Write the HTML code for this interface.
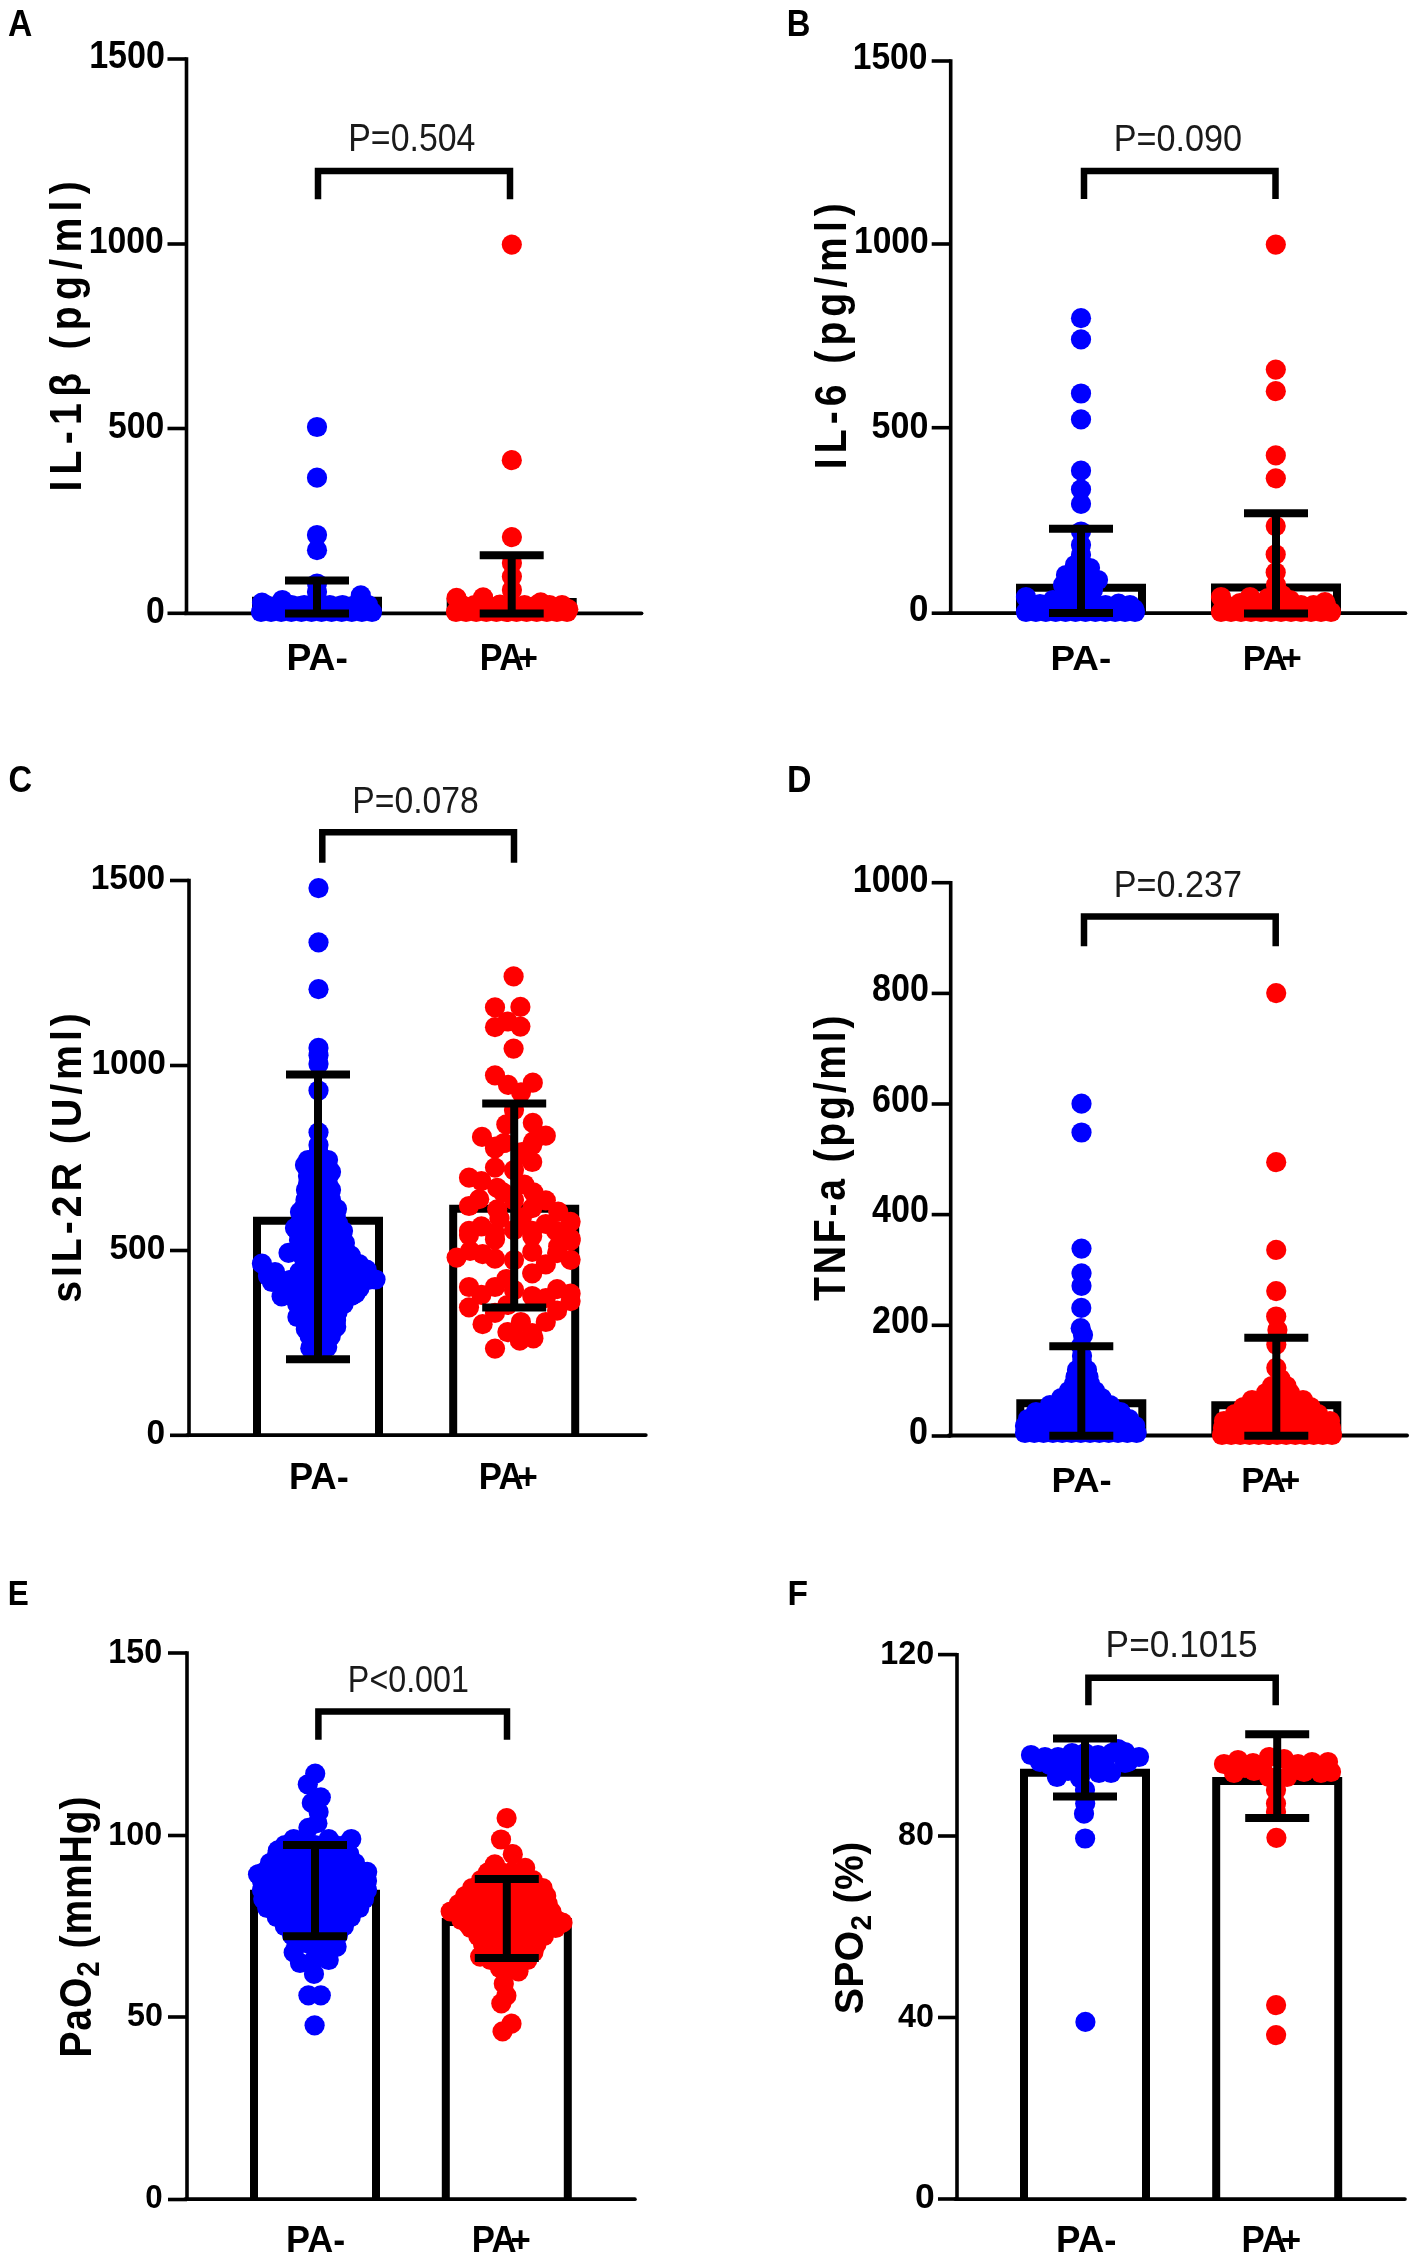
<!DOCTYPE html><html><head><meta charset="utf-8"><style>html,body{margin:0;padding:0;background:#fff;width:1417px;height:2258px;overflow:hidden}</style></head><body><svg width="1417" height="2258" viewBox="0 0 1417 2258" style="font-family:'Liberation Sans',sans-serif;display:block;will-change:transform">
<rect width="1417" height="2258" fill="#fff"/>
<path d="M256,613.3 V600.7 H378 V613.3" fill="#fff" stroke="#000" stroke-width="8" stroke-linejoin="miter"/>
<path d="M450.7,613.3 V602 H572.7 V613.3" fill="#fff" stroke="#000" stroke-width="8" stroke-linejoin="miter"/>
<line x1="186.5" y1="57.3" x2="186.5" y2="615.0" stroke="#000" stroke-width="3.6" stroke-linecap="butt"/>
<line x1="184.7" y1="613.3" x2="641.5" y2="613.3" stroke="#000" stroke-width="3.8" stroke-linecap="round"/>
<line x1="167.5" y1="613.3" x2="186.5" y2="613.3" stroke="#000" stroke-width="3.6" stroke-linecap="butt"/>
<line x1="167.5" y1="428.5" x2="186.5" y2="428.5" stroke="#000" stroke-width="3.6" stroke-linecap="butt"/>
<line x1="167.5" y1="244" x2="186.5" y2="244" stroke="#000" stroke-width="3.6" stroke-linecap="butt"/>
<line x1="167.5" y1="59" x2="186.5" y2="59" stroke="#000" stroke-width="3.6" stroke-linecap="butt"/>
<g fill="#0000ff"><circle cx="317" cy="427" r="10.1"/><circle cx="317" cy="477.7" r="10.1"/><circle cx="317" cy="535" r="10.1"/><circle cx="317" cy="550.2" r="10.1"/><circle cx="317" cy="583.5" r="10.1"/><circle cx="317" cy="592" r="10.1"/><circle cx="262" cy="602.7" r="10.1"/><circle cx="282.3" cy="600" r="10.1"/><circle cx="300" cy="606" r="10.1"/><circle cx="340" cy="606" r="10.1"/><circle cx="360.8" cy="595.4" r="10.1"/><circle cx="261.0" cy="612" r="10.1"/><circle cx="271.1" cy="612" r="10.1"/><circle cx="281.2" cy="612" r="10.1"/><circle cx="291.3" cy="612" r="10.1"/><circle cx="301.4" cy="612" r="10.1"/><circle cx="311.5" cy="612" r="10.1"/><circle cx="321.5" cy="612" r="10.1"/><circle cx="331.6" cy="612" r="10.1"/><circle cx="341.7" cy="612" r="10.1"/><circle cx="351.8" cy="612" r="10.1"/><circle cx="361.9" cy="612" r="10.1"/><circle cx="372.0" cy="612" r="10.1"/><circle cx="266.0" cy="605" r="10.1"/><circle cx="278.8" cy="605" r="10.1"/><circle cx="291.5" cy="605" r="10.1"/><circle cx="304.2" cy="605" r="10.1"/><circle cx="317.0" cy="605" r="10.1"/><circle cx="329.8" cy="605" r="10.1"/><circle cx="342.5" cy="605" r="10.1"/><circle cx="355.2" cy="605" r="10.1"/><circle cx="368.0" cy="605" r="10.1"/></g>
<g fill="#ff0000"><circle cx="511.8" cy="244.6" r="10.1"/><circle cx="511.8" cy="460.2" r="10.1"/><circle cx="511.9" cy="537.1" r="10.1"/><circle cx="511.9" cy="563" r="10.1"/><circle cx="511.9" cy="576.6" r="10.1"/><circle cx="511.9" cy="590" r="10.1"/><circle cx="456.5" cy="597.9" r="10.1"/><circle cx="483.1" cy="597.4" r="10.1"/><circle cx="500" cy="604.7" r="10.1"/><circle cx="540.7" cy="602.4" r="10.1"/><circle cx="568.3" cy="609.2" r="10.1"/><circle cx="525" cy="606" r="10.1"/><circle cx="456.0" cy="612" r="10.1"/><circle cx="466.1" cy="612" r="10.1"/><circle cx="476.2" cy="612" r="10.1"/><circle cx="486.3" cy="612" r="10.1"/><circle cx="496.4" cy="612" r="10.1"/><circle cx="506.5" cy="612" r="10.1"/><circle cx="516.5" cy="612" r="10.1"/><circle cx="526.6" cy="612" r="10.1"/><circle cx="536.7" cy="612" r="10.1"/><circle cx="546.8" cy="612" r="10.1"/><circle cx="556.9" cy="612" r="10.1"/><circle cx="567.0" cy="612" r="10.1"/><circle cx="462.0" cy="605" r="10.1"/><circle cx="474.5" cy="605" r="10.1"/><circle cx="487.0" cy="605" r="10.1"/><circle cx="499.5" cy="605" r="10.1"/><circle cx="512.0" cy="605" r="10.1"/><circle cx="524.5" cy="605" r="10.1"/><circle cx="537.0" cy="605" r="10.1"/><circle cx="549.5" cy="605" r="10.1"/><circle cx="562.0" cy="605" r="10.1"/></g>
<line x1="317" y1="580.6" x2="317" y2="613.4" stroke="#000" stroke-width="8" stroke-linecap="butt"/>
<line x1="285" y1="580.6" x2="349" y2="580.6" stroke="#000" stroke-width="8" stroke-linecap="butt"/>
<line x1="285" y1="613.4" x2="349" y2="613.4" stroke="#000" stroke-width="8" stroke-linecap="butt"/>
<line x1="511.7" y1="555.2" x2="511.7" y2="613.5" stroke="#000" stroke-width="8" stroke-linecap="butt"/>
<line x1="479.7" y1="555.2" x2="543.7" y2="555.2" stroke="#000" stroke-width="8" stroke-linecap="butt"/>
<line x1="479.7" y1="613.5" x2="543.7" y2="613.5" stroke="#000" stroke-width="8" stroke-linecap="butt"/>
<path d="M318,199.3 V171 H510 V199.3" fill="none" stroke="#000" stroke-width="6.5" stroke-linejoin="miter"/>
<path d="M1020,613.2 V587.8 H1142 V613.2" fill="#fff" stroke="#000" stroke-width="8" stroke-linejoin="miter"/>
<path d="M1215,613.2 V587.4 H1337 V613.2" fill="#fff" stroke="#000" stroke-width="8" stroke-linejoin="miter"/>
<line x1="950.7" y1="59.3" x2="950.7" y2="614.9000000000001" stroke="#000" stroke-width="3.6" stroke-linecap="butt"/>
<line x1="948.9000000000001" y1="613.2" x2="1405.3999999999999" y2="613.2" stroke="#000" stroke-width="3.8" stroke-linecap="round"/>
<line x1="931.7" y1="613.2" x2="950.7" y2="613.2" stroke="#000" stroke-width="3.6" stroke-linecap="butt"/>
<line x1="931.7" y1="427.7" x2="950.7" y2="427.7" stroke="#000" stroke-width="3.6" stroke-linecap="butt"/>
<line x1="931.7" y1="244" x2="950.7" y2="244" stroke="#000" stroke-width="3.6" stroke-linecap="butt"/>
<line x1="931.7" y1="61" x2="950.7" y2="61" stroke="#000" stroke-width="3.6" stroke-linecap="butt"/>
<g fill="#0000ff"><circle cx="1081" cy="318.2" r="10.1"/><circle cx="1081" cy="339.4" r="10.1"/><circle cx="1081" cy="393.5" r="10.1"/><circle cx="1081" cy="419.4" r="10.1"/><circle cx="1081" cy="470.7" r="10.1"/><circle cx="1081" cy="489.4" r="10.1"/><circle cx="1081" cy="503.8" r="10.1"/><circle cx="1081" cy="531.5" r="10.1"/><circle cx="1081" cy="545" r="10.1"/><circle cx="1081" cy="555" r="10.1"/><circle cx="1075" cy="565" r="10.1"/><circle cx="1090" cy="568" r="10.1"/><circle cx="1066" cy="575" r="10.1"/><circle cx="1098" cy="580" r="10.1"/><circle cx="1063" cy="585" r="10.1"/><circle cx="1093" cy="590" r="10.1"/><circle cx="1070" cy="595" r="10.1"/><circle cx="1081" cy="575" r="10.1"/><circle cx="1075" cy="585" r="10.1"/><circle cx="1088" cy="585" r="10.1"/><circle cx="1081" cy="597" r="10.1"/><circle cx="1072" cy="578" r="10.1"/><circle cx="1090" cy="578" r="10.1"/><circle cx="1026" cy="597" r="10.1"/><circle cx="1053" cy="600" r="10.1"/><circle cx="1118.6" cy="603.7" r="10.1"/><circle cx="1134" cy="609" r="10.1"/><circle cx="1040" cy="604" r="10.1"/><circle cx="1100" cy="606" r="10.1"/><circle cx="1026.0" cy="612" r="10.1"/><circle cx="1035.9" cy="612" r="10.1"/><circle cx="1045.8" cy="612" r="10.1"/><circle cx="1055.7" cy="612" r="10.1"/><circle cx="1065.6" cy="612" r="10.1"/><circle cx="1075.5" cy="612" r="10.1"/><circle cx="1085.5" cy="612" r="10.1"/><circle cx="1095.4" cy="612" r="10.1"/><circle cx="1105.3" cy="612" r="10.1"/><circle cx="1115.2" cy="612" r="10.1"/><circle cx="1125.1" cy="612" r="10.1"/><circle cx="1135.0" cy="612" r="10.1"/><circle cx="1032.0" cy="605" r="10.1"/><circle cx="1044.2" cy="605" r="10.1"/><circle cx="1056.5" cy="605" r="10.1"/><circle cx="1068.8" cy="605" r="10.1"/><circle cx="1081.0" cy="605" r="10.1"/><circle cx="1093.2" cy="605" r="10.1"/><circle cx="1105.5" cy="605" r="10.1"/><circle cx="1117.8" cy="605" r="10.1"/><circle cx="1130.0" cy="605" r="10.1"/></g>
<g fill="#ff0000"><circle cx="1275.8" cy="244.6" r="10.1"/><circle cx="1275.8" cy="369.6" r="10.1"/><circle cx="1275.8" cy="391.2" r="10.1"/><circle cx="1275.8" cy="455.4" r="10.1"/><circle cx="1275.8" cy="478.3" r="10.1"/><circle cx="1275.7" cy="526.1" r="10.1"/><circle cx="1275.7" cy="554.4" r="10.1"/><circle cx="1275.7" cy="572.4" r="10.1"/><circle cx="1276" cy="585" r="10.1"/><circle cx="1282" cy="595" r="10.1"/><circle cx="1268" cy="598" r="10.1"/><circle cx="1290" cy="600" r="10.1"/><circle cx="1276" cy="600" r="10.1"/><circle cx="1262" cy="604" r="10.1"/><circle cx="1221" cy="597" r="10.1"/><circle cx="1250" cy="597" r="10.1"/><circle cx="1325" cy="602" r="10.1"/><circle cx="1240" cy="603" r="10.1"/><circle cx="1300" cy="606" r="10.1"/><circle cx="1221.0" cy="612" r="10.1"/><circle cx="1231.0" cy="612" r="10.1"/><circle cx="1241.0" cy="612" r="10.1"/><circle cx="1251.0" cy="612" r="10.1"/><circle cx="1261.0" cy="612" r="10.1"/><circle cx="1271.0" cy="612" r="10.1"/><circle cx="1281.0" cy="612" r="10.1"/><circle cx="1291.0" cy="612" r="10.1"/><circle cx="1301.0" cy="612" r="10.1"/><circle cx="1311.0" cy="612" r="10.1"/><circle cx="1321.0" cy="612" r="10.1"/><circle cx="1331.0" cy="612" r="10.1"/><circle cx="1226.0" cy="605" r="10.1"/><circle cx="1238.5" cy="605" r="10.1"/><circle cx="1251.0" cy="605" r="10.1"/><circle cx="1263.5" cy="605" r="10.1"/><circle cx="1276.0" cy="605" r="10.1"/><circle cx="1288.5" cy="605" r="10.1"/><circle cx="1301.0" cy="605" r="10.1"/><circle cx="1313.5" cy="605" r="10.1"/><circle cx="1326.0" cy="605" r="10.1"/></g>
<line x1="1081" y1="528.8" x2="1081" y2="613" stroke="#000" stroke-width="8" stroke-linecap="butt"/>
<line x1="1049" y1="528.8" x2="1113" y2="528.8" stroke="#000" stroke-width="8" stroke-linecap="butt"/>
<line x1="1049" y1="613" x2="1113" y2="613" stroke="#000" stroke-width="8" stroke-linecap="butt"/>
<line x1="1276" y1="513.2" x2="1276" y2="613.4" stroke="#000" stroke-width="8" stroke-linecap="butt"/>
<line x1="1244" y1="513.2" x2="1308" y2="513.2" stroke="#000" stroke-width="8" stroke-linecap="butt"/>
<line x1="1244" y1="613.4" x2="1308" y2="613.4" stroke="#000" stroke-width="8" stroke-linecap="butt"/>
<path d="M1084,198.9 V171 H1275.5 V198.9" fill="none" stroke="#000" stroke-width="6.5" stroke-linejoin="miter"/>
<path d="M257,1435.1 V1220.7 H379 V1435.1" fill="#fff" stroke="#000" stroke-width="8" stroke-linejoin="miter"/>
<path d="M453.20000000000005,1435.1 V1208.8 H575.2 V1435.1" fill="#fff" stroke="#000" stroke-width="8" stroke-linejoin="miter"/>
<line x1="189" y1="878.8" x2="189" y2="1436.8" stroke="#000" stroke-width="3.6" stroke-linecap="butt"/>
<line x1="187.2" y1="1435.1" x2="645.8000000000001" y2="1435.1" stroke="#000" stroke-width="3.8" stroke-linecap="round"/>
<line x1="170" y1="1435.3" x2="189" y2="1435.3" stroke="#000" stroke-width="3.6" stroke-linecap="butt"/>
<line x1="170" y1="1250.5" x2="189" y2="1250.5" stroke="#000" stroke-width="3.6" stroke-linecap="butt"/>
<line x1="170" y1="1065.5" x2="189" y2="1065.5" stroke="#000" stroke-width="3.6" stroke-linecap="butt"/>
<line x1="170" y1="880.5" x2="189" y2="880.5" stroke="#000" stroke-width="3.6" stroke-linecap="butt"/>
<g fill="#0000ff"><circle cx="318.5" cy="888.1" r="10.1"/><circle cx="318.5" cy="942.3" r="10.1"/><circle cx="318.5" cy="989.2" r="10.1"/><circle cx="318.5" cy="1047.9" r="10.1"/><circle cx="318.5" cy="1055.3" r="10.1"/><circle cx="318.5" cy="1064" r="10.1"/><circle cx="318.5" cy="1090.5" r="10.1"/><circle cx="318.5" cy="1132.3" r="10.1"/><circle cx="318.5" cy="1145" r="10.1"/><circle cx="318.5" cy="1153" r="10.1"/><circle cx="318.5" cy="1161" r="10.1"/><circle cx="318.5" cy="1169" r="10.1"/><circle cx="318.5" cy="1177" r="10.1"/><circle cx="318.5" cy="1185" r="10.1"/><circle cx="318.5" cy="1193" r="10.1"/><circle cx="318.5" cy="1201" r="10.1"/><circle cx="318.5" cy="1209" r="10.1"/><circle cx="318.5" cy="1217" r="10.1"/><circle cx="318.5" cy="1225" r="10.1"/><circle cx="318.5" cy="1233" r="10.1"/><circle cx="318.5" cy="1241" r="10.1"/><circle cx="318.5" cy="1249" r="10.1"/><circle cx="318.5" cy="1257" r="10.1"/><circle cx="318.5" cy="1265" r="10.1"/><circle cx="318.5" cy="1273" r="10.1"/><circle cx="318.5" cy="1281" r="10.1"/><circle cx="318.5" cy="1289" r="10.1"/><circle cx="318.5" cy="1297" r="10.1"/><circle cx="318.5" cy="1305" r="10.1"/><circle cx="318.5" cy="1313" r="10.1"/><circle cx="318.5" cy="1321" r="10.1"/><circle cx="318.5" cy="1329" r="10.1"/><circle cx="318.5" cy="1337" r="10.1"/><circle cx="318.5" cy="1345" r="10.1"/><circle cx="305" cy="1165" r="10.1"/><circle cx="331" cy="1172" r="10.1"/><circle cx="306" cy="1190" r="10.1"/><circle cx="331" cy="1190" r="10.1"/><circle cx="300" cy="1212" r="10.1"/><circle cx="337" cy="1209" r="10.1"/><circle cx="295" cy="1228" r="10.1"/><circle cx="343" cy="1231" r="10.1"/><circle cx="312" cy="1160" r="10.1"/><circle cx="324" cy="1180" r="10.1"/><circle cx="312" cy="1200" r="10.1"/><circle cx="324" cy="1200" r="10.1"/><circle cx="312" cy="1220" r="10.1"/><circle cx="325" cy="1220" r="10.1"/><circle cx="310" cy="1235" r="10.1"/><circle cx="328" cy="1238" r="10.1"/><circle cx="288.5" cy="1252.8" r="10.1"/><circle cx="261.9" cy="1263.7" r="10.1"/><circle cx="275" cy="1272" r="10.1"/><circle cx="290" cy="1280" r="10.1"/><circle cx="281.6" cy="1296.3" r="10.1"/><circle cx="297.4" cy="1317" r="10.1"/><circle cx="336" cy="1320" r="10.1"/><circle cx="355.7" cy="1293.3" r="10.1"/><circle cx="375.5" cy="1279.5" r="10.1"/><circle cx="366.6" cy="1269.6" r="10.1"/><circle cx="344.9" cy="1243" r="10.1"/><circle cx="350" cy="1255" r="10.1"/><circle cx="358" cy="1265" r="10.1"/><circle cx="305" cy="1280" r="10.1"/><circle cx="272" cy="1282" r="10.1"/><circle cx="285" cy="1288" r="10.1"/><circle cx="268" cy="1276" r="10.1"/><circle cx="300" cy="1295" r="10.1"/><circle cx="310" cy="1305" r="10.1"/><circle cx="330" cy="1250" r="10.1"/><circle cx="333" cy="1265" r="10.1"/><circle cx="345" cy="1275" r="10.1"/><circle cx="340" cy="1290" r="10.1"/><circle cx="330" cy="1305" r="10.1"/><circle cx="350" cy="1282" r="10.1"/><circle cx="325" cy="1275" r="10.1"/><circle cx="310" cy="1260" r="10.1"/><circle cx="305.8" cy="1329" r="10.1"/><circle cx="336.2" cy="1326.8" r="10.1"/><circle cx="310.3" cy="1348.2" r="10.1"/><circle cx="327.2" cy="1347.1" r="10.1"/><circle cx="308" cy="1330.3" r="10.1"/><circle cx="335.1" cy="1327" r="10.1"/><circle cx="301.2" cy="1317.9" r="10.1"/><circle cx="308.0" cy="1160" r="10.1"/><circle cx="318.0" cy="1160" r="10.1"/><circle cx="328.0" cy="1160" r="10.1"/><circle cx="308.0" cy="1168" r="10.1"/><circle cx="318.0" cy="1168" r="10.1"/><circle cx="328.0" cy="1168" r="10.1"/><circle cx="308.0" cy="1176" r="10.1"/><circle cx="318.0" cy="1176" r="10.1"/><circle cx="328.0" cy="1176" r="10.1"/><circle cx="308.0" cy="1184" r="10.1"/><circle cx="318.0" cy="1184" r="10.1"/><circle cx="328.0" cy="1184" r="10.1"/><circle cx="307.5" cy="1192" r="10.1"/><circle cx="318.1" cy="1192" r="10.1"/><circle cx="328.6" cy="1192" r="10.1"/><circle cx="305.5" cy="1200" r="10.1"/><circle cx="318.2" cy="1200" r="10.1"/><circle cx="331.0" cy="1200" r="10.1"/><circle cx="303.5" cy="1208" r="10.1"/><circle cx="313.5" cy="1208" r="10.1"/><circle cx="323.4" cy="1208" r="10.1"/><circle cx="333.4" cy="1208" r="10.1"/><circle cx="301.5" cy="1216" r="10.1"/><circle cx="312.9" cy="1216" r="10.1"/><circle cx="324.4" cy="1216" r="10.1"/><circle cx="335.8" cy="1216" r="10.1"/><circle cx="299.5" cy="1224" r="10.1"/><circle cx="309.2" cy="1224" r="10.1"/><circle cx="318.9" cy="1224" r="10.1"/><circle cx="328.5" cy="1224" r="10.1"/><circle cx="338.2" cy="1224" r="10.1"/><circle cx="298.2" cy="1232" r="10.1"/><circle cx="308.8" cy="1232" r="10.1"/><circle cx="319.4" cy="1232" r="10.1"/><circle cx="329.9" cy="1232" r="10.1"/><circle cx="340.5" cy="1232" r="10.1"/><circle cx="299.0" cy="1240" r="10.1"/><circle cx="309.9" cy="1240" r="10.1"/><circle cx="320.8" cy="1240" r="10.1"/><circle cx="331.6" cy="1240" r="10.1"/><circle cx="342.5" cy="1240" r="10.1"/><circle cx="299.8" cy="1248" r="10.1"/><circle cx="311.0" cy="1248" r="10.1"/><circle cx="322.1" cy="1248" r="10.1"/><circle cx="333.3" cy="1248" r="10.1"/><circle cx="344.5" cy="1248" r="10.1"/><circle cx="302.4" cy="1256" r="10.1"/><circle cx="312.1" cy="1256" r="10.1"/><circle cx="321.8" cy="1256" r="10.1"/><circle cx="331.6" cy="1256" r="10.1"/><circle cx="341.3" cy="1256" r="10.1"/><circle cx="351.0" cy="1256" r="10.1"/><circle cx="305.6" cy="1264" r="10.1"/><circle cx="316.3" cy="1264" r="10.1"/><circle cx="327.0" cy="1264" r="10.1"/><circle cx="337.6" cy="1264" r="10.1"/><circle cx="348.3" cy="1264" r="10.1"/><circle cx="359.0" cy="1264" r="10.1"/><circle cx="299.5" cy="1272" r="10.1"/><circle cx="308.6" cy="1272" r="10.1"/><circle cx="317.8" cy="1272" r="10.1"/><circle cx="327.0" cy="1272" r="10.1"/><circle cx="336.2" cy="1272" r="10.1"/><circle cx="345.4" cy="1272" r="10.1"/><circle cx="354.6" cy="1272" r="10.1"/><circle cx="363.7" cy="1272" r="10.1"/><circle cx="292.0" cy="1280" r="10.1"/><circle cx="301.5" cy="1280" r="10.1"/><circle cx="311.0" cy="1280" r="10.1"/><circle cx="320.5" cy="1280" r="10.1"/><circle cx="330.0" cy="1280" r="10.1"/><circle cx="339.5" cy="1280" r="10.1"/><circle cx="349.0" cy="1280" r="10.1"/><circle cx="358.5" cy="1280" r="10.1"/><circle cx="368.0" cy="1280" r="10.1"/><circle cx="290.9" cy="1288" r="10.1"/><circle cx="300.7" cy="1288" r="10.1"/><circle cx="310.5" cy="1288" r="10.1"/><circle cx="320.3" cy="1288" r="10.1"/><circle cx="330.1" cy="1288" r="10.1"/><circle cx="339.9" cy="1288" r="10.1"/><circle cx="349.7" cy="1288" r="10.1"/><circle cx="359.5" cy="1288" r="10.1"/><circle cx="290.8" cy="1296" r="10.1"/><circle cx="300.8" cy="1296" r="10.1"/><circle cx="310.9" cy="1296" r="10.1"/><circle cx="320.9" cy="1296" r="10.1"/><circle cx="331.0" cy="1296" r="10.1"/><circle cx="341.0" cy="1296" r="10.1"/><circle cx="351.1" cy="1296" r="10.1"/><circle cx="297.2" cy="1304" r="10.1"/><circle cx="306.5" cy="1304" r="10.1"/><circle cx="315.8" cy="1304" r="10.1"/><circle cx="325.0" cy="1304" r="10.1"/><circle cx="334.3" cy="1304" r="10.1"/><circle cx="343.6" cy="1304" r="10.1"/><circle cx="302.6" cy="1312" r="10.1"/><circle cx="314.3" cy="1312" r="10.1"/><circle cx="325.9" cy="1312" r="10.1"/><circle cx="337.6" cy="1312" r="10.1"/><circle cx="305.0" cy="1320" r="10.1"/><circle cx="315.3" cy="1320" r="10.1"/><circle cx="325.7" cy="1320" r="10.1"/><circle cx="336.0" cy="1320" r="10.1"/><circle cx="307.4" cy="1328" r="10.1"/><circle cx="316.4" cy="1328" r="10.1"/><circle cx="325.4" cy="1328" r="10.1"/><circle cx="334.4" cy="1328" r="10.1"/><circle cx="309.6" cy="1336" r="10.1"/><circle cx="320.2" cy="1336" r="10.1"/><circle cx="330.8" cy="1336" r="10.1"/><circle cx="311.7" cy="1344" r="10.1"/><circle cx="326.5" cy="1344" r="10.1"/></g>
<g fill="#ff0000"><circle cx="513.6" cy="976.4" r="10.1"/><circle cx="495" cy="1007.4" r="10.1"/><circle cx="520.4" cy="1006.9" r="10.1"/><circle cx="507.4" cy="1021.5" r="10.1"/><circle cx="495" cy="1027.2" r="10.1"/><circle cx="520.4" cy="1026.6" r="10.1"/><circle cx="513.6" cy="1048.6" r="10.1"/><circle cx="495" cy="1075.3" r="10.1"/><circle cx="508" cy="1084.9" r="10.1"/><circle cx="521" cy="1092.3" r="10.1"/><circle cx="532.8" cy="1082.7" r="10.1"/><circle cx="506.3" cy="1124.4" r="10.1"/><circle cx="532.8" cy="1122.8" r="10.1"/><circle cx="482" cy="1136.9" r="10.1"/><circle cx="545.8" cy="1135.7" r="10.1"/><circle cx="533.4" cy="1141.4" r="10.1"/><circle cx="495.5" cy="1146.5" r="10.1"/><circle cx="504" cy="1143" r="10.1"/><circle cx="522" cy="1152" r="10.1"/><circle cx="495" cy="1148.4" r="10.1"/><circle cx="532.2" cy="1145" r="10.1"/><circle cx="532.2" cy="1162" r="10.1"/><circle cx="522" cy="1155" r="10.1"/><circle cx="495" cy="1167.6" r="10.1"/><circle cx="469" cy="1177.7" r="10.1"/><circle cx="481.4" cy="1181.1" r="10.1"/><circle cx="497.2" cy="1187.9" r="10.1"/><circle cx="502.9" cy="1192.4" r="10.1"/><circle cx="469" cy="1206" r="10.1"/><circle cx="479.2" cy="1199.2" r="10.1"/><circle cx="497.2" cy="1209.4" r="10.1"/><circle cx="524.3" cy="1184.5" r="10.1"/><circle cx="533.4" cy="1192.4" r="10.1"/><circle cx="545.8" cy="1200.3" r="10.1"/><circle cx="532.2" cy="1208.2" r="10.1"/><circle cx="558.2" cy="1211.6" r="10.1"/><circle cx="570.6" cy="1221.8" r="10.1"/><circle cx="570.6" cy="1238.7" r="10.1"/><circle cx="469" cy="1230.8" r="10.1"/><circle cx="481.4" cy="1226.3" r="10.1"/><circle cx="495" cy="1233.1" r="10.1"/><circle cx="532.2" cy="1230.8" r="10.1"/><circle cx="545.8" cy="1224" r="10.1"/><circle cx="556" cy="1230.8" r="10.1"/><circle cx="522" cy="1217.3" r="10.1"/><circle cx="499.5" cy="1218.4" r="10.1"/><circle cx="469" cy="1235" r="10.1"/><circle cx="495" cy="1239.5" r="10.1"/><circle cx="532.2" cy="1236.1" r="10.1"/><circle cx="570.6" cy="1240.6" r="10.1"/><circle cx="558.2" cy="1246.3" r="10.1"/><circle cx="456.6" cy="1257.6" r="10.1"/><circle cx="470.1" cy="1250.8" r="10.1"/><circle cx="482.6" cy="1254.2" r="10.1"/><circle cx="495" cy="1258.7" r="10.1"/><circle cx="532.2" cy="1251.9" r="10.1"/><circle cx="557.1" cy="1253.1" r="10.1"/><circle cx="570.6" cy="1259.8" r="10.1"/><circle cx="545.8" cy="1264.4" r="10.1"/><circle cx="532.2" cy="1273.4" r="10.1"/><circle cx="506.3" cy="1279" r="10.1"/><circle cx="495" cy="1287" r="10.1"/><circle cx="469" cy="1287" r="10.1"/><circle cx="481.4" cy="1294.8" r="10.1"/><circle cx="469" cy="1307.3" r="10.1"/><circle cx="532.2" cy="1296" r="10.1"/><circle cx="545.8" cy="1298.2" r="10.1"/><circle cx="557.1" cy="1289.2" r="10.1"/><circle cx="570.6" cy="1293.7" r="10.1"/><circle cx="557.1" cy="1310.7" r="10.1"/><circle cx="545.8" cy="1322" r="10.1"/><circle cx="520.9" cy="1322" r="10.1"/><circle cx="507.4" cy="1332.1" r="10.1"/><circle cx="532.2" cy="1333.2" r="10.1"/><circle cx="482.6" cy="1324.2" r="10.1"/><circle cx="495" cy="1312.9" r="10.1"/><circle cx="507.4" cy="1305" r="10.1"/><circle cx="495" cy="1348.6" r="10.1"/><circle cx="519.8" cy="1340.7" r="10.1"/><circle cx="533.4" cy="1338.4" r="10.1"/><circle cx="570.6" cy="1301.1" r="10.1"/><circle cx="514" cy="1170" r="10.1"/><circle cx="514" cy="1200" r="10.1"/><circle cx="514" cy="1230" r="10.1"/><circle cx="514" cy="1260" r="10.1"/><circle cx="514" cy="1290" r="10.1"/><circle cx="514" cy="1110" r="10.1"/></g>
<line x1="318" y1="1074.5" x2="318" y2="1359.3" stroke="#000" stroke-width="8" stroke-linecap="butt"/>
<line x1="286" y1="1074.5" x2="350" y2="1074.5" stroke="#000" stroke-width="8" stroke-linecap="butt"/>
<line x1="286" y1="1359.3" x2="350" y2="1359.3" stroke="#000" stroke-width="8" stroke-linecap="butt"/>
<line x1="514.2" y1="1103.4" x2="514.2" y2="1307.4" stroke="#000" stroke-width="8" stroke-linecap="butt"/>
<line x1="482.20000000000005" y1="1103.4" x2="546.2" y2="1103.4" stroke="#000" stroke-width="8" stroke-linecap="butt"/>
<line x1="482.20000000000005" y1="1307.4" x2="546.2" y2="1307.4" stroke="#000" stroke-width="8" stroke-linecap="butt"/>
<path d="M322.3,862.8 V832.3 H514 V862.8" fill="none" stroke="#000" stroke-width="6.5" stroke-linejoin="miter"/>
<path d="M1020.3,1435.5 V1403.3 H1142.3 V1435.5" fill="#fff" stroke="#000" stroke-width="8" stroke-linejoin="miter"/>
<path d="M1215.3,1435.5 V1405.3 H1337.3 V1435.5" fill="#fff" stroke="#000" stroke-width="8" stroke-linejoin="miter"/>
<line x1="950.7" y1="881.0" x2="950.7" y2="1437.2" stroke="#000" stroke-width="3.6" stroke-linecap="butt"/>
<line x1="948.9000000000001" y1="1435.5" x2="1407.1" y2="1435.5" stroke="#000" stroke-width="3.8" stroke-linecap="round"/>
<line x1="931.7" y1="1436" x2="950.7" y2="1436" stroke="#000" stroke-width="3.6" stroke-linecap="butt"/>
<line x1="931.7" y1="1325.3" x2="950.7" y2="1325.3" stroke="#000" stroke-width="3.6" stroke-linecap="butt"/>
<line x1="931.7" y1="1214.6" x2="950.7" y2="1214.6" stroke="#000" stroke-width="3.6" stroke-linecap="butt"/>
<line x1="931.7" y1="1104" x2="950.7" y2="1104" stroke="#000" stroke-width="3.6" stroke-linecap="butt"/>
<line x1="931.7" y1="993.4" x2="950.7" y2="993.4" stroke="#000" stroke-width="3.6" stroke-linecap="butt"/>
<line x1="931.7" y1="882.7" x2="950.7" y2="882.7" stroke="#000" stroke-width="3.6" stroke-linecap="butt"/>
<g fill="#0000ff"><circle cx="1081.5" cy="1103.7" r="10.1"/><circle cx="1081.5" cy="1132.5" r="10.1"/><circle cx="1081.5" cy="1248.6" r="10.1"/><circle cx="1081.5" cy="1273.4" r="10.1"/><circle cx="1081.5" cy="1285.8" r="10.1"/><circle cx="1081.3" cy="1307.9" r="10.1"/><circle cx="1080.7" cy="1328.2" r="10.1"/><circle cx="1083" cy="1335" r="10.1"/><circle cx="1081" cy="1346" r="10.1"/><circle cx="1082.0" cy="1356" r="10.1"/><circle cx="1082.0" cy="1363" r="10.1"/><circle cx="1077.0" cy="1370" r="10.1"/><circle cx="1087.0" cy="1370" r="10.1"/><circle cx="1075.5" cy="1377" r="10.1"/><circle cx="1088.5" cy="1377" r="10.1"/><circle cx="1074.0" cy="1384" r="10.1"/><circle cx="1090.0" cy="1384" r="10.1"/><circle cx="1068.9" cy="1391" r="10.1"/><circle cx="1082.0" cy="1391" r="10.1"/><circle cx="1095.1" cy="1391" r="10.1"/><circle cx="1061.2" cy="1398" r="10.1"/><circle cx="1071.3" cy="1398" r="10.1"/><circle cx="1081.4" cy="1398" r="10.1"/><circle cx="1091.5" cy="1398" r="10.1"/><circle cx="1101.6" cy="1398" r="10.1"/><circle cx="1050.0" cy="1405" r="10.1"/><circle cx="1060.0" cy="1405" r="10.1"/><circle cx="1070.0" cy="1405" r="10.1"/><circle cx="1080.0" cy="1405" r="10.1"/><circle cx="1090.0" cy="1405" r="10.1"/><circle cx="1100.0" cy="1405" r="10.1"/><circle cx="1110.0" cy="1405" r="10.1"/><circle cx="1036.0" cy="1412" r="10.1"/><circle cx="1045.4" cy="1412" r="10.1"/><circle cx="1054.8" cy="1412" r="10.1"/><circle cx="1064.2" cy="1412" r="10.1"/><circle cx="1073.6" cy="1412" r="10.1"/><circle cx="1082.9" cy="1412" r="10.1"/><circle cx="1092.3" cy="1412" r="10.1"/><circle cx="1101.7" cy="1412" r="10.1"/><circle cx="1111.1" cy="1412" r="10.1"/><circle cx="1120.5" cy="1412" r="10.1"/><circle cx="1028.0" cy="1419" r="10.1"/><circle cx="1037.2" cy="1419" r="10.1"/><circle cx="1046.4" cy="1419" r="10.1"/><circle cx="1055.5" cy="1419" r="10.1"/><circle cx="1064.7" cy="1419" r="10.1"/><circle cx="1073.9" cy="1419" r="10.1"/><circle cx="1083.1" cy="1419" r="10.1"/><circle cx="1092.3" cy="1419" r="10.1"/><circle cx="1101.5" cy="1419" r="10.1"/><circle cx="1110.6" cy="1419" r="10.1"/><circle cx="1119.8" cy="1419" r="10.1"/><circle cx="1129.0" cy="1419" r="10.1"/><circle cx="1025.0" cy="1426" r="10.1"/><circle cx="1034.2" cy="1426" r="10.1"/><circle cx="1043.4" cy="1426" r="10.1"/><circle cx="1052.5" cy="1426" r="10.1"/><circle cx="1061.7" cy="1426" r="10.1"/><circle cx="1070.9" cy="1426" r="10.1"/><circle cx="1080.1" cy="1426" r="10.1"/><circle cx="1089.3" cy="1426" r="10.1"/><circle cx="1098.5" cy="1426" r="10.1"/><circle cx="1107.7" cy="1426" r="10.1"/><circle cx="1116.8" cy="1426" r="10.1"/><circle cx="1126.0" cy="1426" r="10.1"/><circle cx="1135.2" cy="1426" r="10.1"/><circle cx="1025.0" cy="1433" r="10.1"/><circle cx="1034.3" cy="1433" r="10.1"/><circle cx="1043.6" cy="1433" r="10.1"/><circle cx="1052.9" cy="1433" r="10.1"/><circle cx="1062.2" cy="1433" r="10.1"/><circle cx="1071.5" cy="1433" r="10.1"/><circle cx="1080.8" cy="1433" r="10.1"/><circle cx="1090.1" cy="1433" r="10.1"/><circle cx="1099.4" cy="1433" r="10.1"/><circle cx="1108.7" cy="1433" r="10.1"/><circle cx="1118.0" cy="1433" r="10.1"/><circle cx="1127.3" cy="1433" r="10.1"/><circle cx="1136.6" cy="1433" r="10.1"/></g>
<g fill="#ff0000"><circle cx="1276.2" cy="993.1" r="10.1"/><circle cx="1276.2" cy="1162.2" r="10.1"/><circle cx="1276.2" cy="1249.9" r="10.1"/><circle cx="1276.2" cy="1291.1" r="10.1"/><circle cx="1276.2" cy="1316.5" r="10.1"/><circle cx="1277.4" cy="1330" r="10.1"/><circle cx="1276.3" cy="1344.6" r="10.1"/><circle cx="1276.3" cy="1367.8" r="10.1"/><circle cx="1280.5" cy="1379" r="10.1"/><circle cx="1272.0" cy="1386" r="10.1"/><circle cx="1286.5" cy="1386" r="10.1"/><circle cx="1266.0" cy="1393" r="10.1"/><circle cx="1278.0" cy="1393" r="10.1"/><circle cx="1290.0" cy="1393" r="10.1"/><circle cx="1252.0" cy="1400" r="10.1"/><circle cx="1262.2" cy="1400" r="10.1"/><circle cx="1272.4" cy="1400" r="10.1"/><circle cx="1282.6" cy="1400" r="10.1"/><circle cx="1292.8" cy="1400" r="10.1"/><circle cx="1303.0" cy="1400" r="10.1"/><circle cx="1243.5" cy="1407" r="10.1"/><circle cx="1253.1" cy="1407" r="10.1"/><circle cx="1262.6" cy="1407" r="10.1"/><circle cx="1272.2" cy="1407" r="10.1"/><circle cx="1281.8" cy="1407" r="10.1"/><circle cx="1291.4" cy="1407" r="10.1"/><circle cx="1300.9" cy="1407" r="10.1"/><circle cx="1310.5" cy="1407" r="10.1"/><circle cx="1235.0" cy="1414" r="10.1"/><circle cx="1244.2" cy="1414" r="10.1"/><circle cx="1253.4" cy="1414" r="10.1"/><circle cx="1262.7" cy="1414" r="10.1"/><circle cx="1271.9" cy="1414" r="10.1"/><circle cx="1281.1" cy="1414" r="10.1"/><circle cx="1290.3" cy="1414" r="10.1"/><circle cx="1299.6" cy="1414" r="10.1"/><circle cx="1308.8" cy="1414" r="10.1"/><circle cx="1318.0" cy="1414" r="10.1"/><circle cx="1224.0" cy="1421" r="10.1"/><circle cx="1233.6" cy="1421" r="10.1"/><circle cx="1243.3" cy="1421" r="10.1"/><circle cx="1252.9" cy="1421" r="10.1"/><circle cx="1262.5" cy="1421" r="10.1"/><circle cx="1272.2" cy="1421" r="10.1"/><circle cx="1281.8" cy="1421" r="10.1"/><circle cx="1291.5" cy="1421" r="10.1"/><circle cx="1301.1" cy="1421" r="10.1"/><circle cx="1310.7" cy="1421" r="10.1"/><circle cx="1320.4" cy="1421" r="10.1"/><circle cx="1330.0" cy="1421" r="10.1"/><circle cx="1223.0" cy="1428" r="10.1"/><circle cx="1232.0" cy="1428" r="10.1"/><circle cx="1241.0" cy="1428" r="10.1"/><circle cx="1250.0" cy="1428" r="10.1"/><circle cx="1259.0" cy="1428" r="10.1"/><circle cx="1268.0" cy="1428" r="10.1"/><circle cx="1277.0" cy="1428" r="10.1"/><circle cx="1286.0" cy="1428" r="10.1"/><circle cx="1295.0" cy="1428" r="10.1"/><circle cx="1304.0" cy="1428" r="10.1"/><circle cx="1313.0" cy="1428" r="10.1"/><circle cx="1322.0" cy="1428" r="10.1"/><circle cx="1331.0" cy="1428" r="10.1"/><circle cx="1222.0" cy="1435" r="10.1"/><circle cx="1231.2" cy="1435" r="10.1"/><circle cx="1240.3" cy="1435" r="10.1"/><circle cx="1249.5" cy="1435" r="10.1"/><circle cx="1258.7" cy="1435" r="10.1"/><circle cx="1267.8" cy="1435" r="10.1"/><circle cx="1277.0" cy="1435" r="10.1"/><circle cx="1286.2" cy="1435" r="10.1"/><circle cx="1295.3" cy="1435" r="10.1"/><circle cx="1304.5" cy="1435" r="10.1"/><circle cx="1313.7" cy="1435" r="10.1"/><circle cx="1322.8" cy="1435" r="10.1"/><circle cx="1332.0" cy="1435" r="10.1"/></g>
<line x1="1081.3" y1="1346.3" x2="1081.3" y2="1435.8" stroke="#000" stroke-width="8" stroke-linecap="butt"/>
<line x1="1049.3" y1="1346.3" x2="1113.3" y2="1346.3" stroke="#000" stroke-width="8" stroke-linecap="butt"/>
<line x1="1049.3" y1="1435.8" x2="1113.3" y2="1435.8" stroke="#000" stroke-width="8" stroke-linecap="butt"/>
<line x1="1276.3" y1="1337.8" x2="1276.3" y2="1435.8" stroke="#000" stroke-width="8" stroke-linecap="butt"/>
<line x1="1244.3" y1="1337.8" x2="1308.3" y2="1337.8" stroke="#000" stroke-width="8" stroke-linecap="butt"/>
<line x1="1244.3" y1="1435.8" x2="1308.3" y2="1435.8" stroke="#000" stroke-width="8" stroke-linecap="butt"/>
<path d="M1084,946.2 V916.5 H1275.7 V946.2" fill="none" stroke="#000" stroke-width="6.5" stroke-linejoin="miter"/>
<path d="M254,2199.2 V1893.8 H376 V2199.2" fill="#fff" stroke="#000" stroke-width="8" stroke-linejoin="miter"/>
<path d="M445.8,2199.2 V1922 H567.8 V2199.2" fill="#fff" stroke="#000" stroke-width="8" stroke-linejoin="miter"/>
<line x1="187" y1="1651.3" x2="187" y2="2200.8999999999996" stroke="#000" stroke-width="3.6" stroke-linecap="butt"/>
<line x1="185.2" y1="2199.2" x2="634.9" y2="2199.2" stroke="#000" stroke-width="3.8" stroke-linecap="round"/>
<line x1="168" y1="2199.5" x2="187" y2="2199.5" stroke="#000" stroke-width="3.6" stroke-linecap="butt"/>
<line x1="168" y1="2017" x2="187" y2="2017" stroke="#000" stroke-width="3.6" stroke-linecap="butt"/>
<line x1="168" y1="1835.5" x2="187" y2="1835.5" stroke="#000" stroke-width="3.6" stroke-linecap="butt"/>
<line x1="168" y1="1653" x2="187" y2="1653" stroke="#000" stroke-width="3.6" stroke-linecap="butt"/>
<g fill="#0000ff"><circle cx="315.2" cy="1773.6" r="10.1"/><circle cx="307.8" cy="1784.3" r="10.1"/><circle cx="320.8" cy="1797.3" r="10.1"/><circle cx="311.8" cy="1802.9" r="10.1"/><circle cx="318.6" cy="1811.9" r="10.1"/><circle cx="317.4" cy="1823.2" r="10.1"/><circle cx="308.4" cy="1827.8" r="10.1"/><circle cx="293.7" cy="1839" r="10.1"/><circle cx="328.7" cy="1839" r="10.1"/><circle cx="351.3" cy="1839" r="10.1"/><circle cx="277.9" cy="1850.3" r="10.1"/><circle cx="258" cy="1874.3" r="10.1"/><circle cx="367.2" cy="1871.8" r="10.1"/><circle cx="285.0" cy="1845" r="10.1"/><circle cx="295.0" cy="1845" r="10.1"/><circle cx="305.0" cy="1845" r="10.1"/><circle cx="315.0" cy="1845" r="10.1"/><circle cx="325.0" cy="1845" r="10.1"/><circle cx="335.0" cy="1845" r="10.1"/><circle cx="345.0" cy="1845" r="10.1"/><circle cx="277.2" cy="1854" r="10.1"/><circle cx="287.5" cy="1854" r="10.1"/><circle cx="297.8" cy="1854" r="10.1"/><circle cx="308.1" cy="1854" r="10.1"/><circle cx="318.3" cy="1854" r="10.1"/><circle cx="328.6" cy="1854" r="10.1"/><circle cx="338.9" cy="1854" r="10.1"/><circle cx="349.2" cy="1854" r="10.1"/><circle cx="270.0" cy="1863" r="10.1"/><circle cx="280.6" cy="1863" r="10.1"/><circle cx="291.2" cy="1863" r="10.1"/><circle cx="301.9" cy="1863" r="10.1"/><circle cx="312.5" cy="1863" r="10.1"/><circle cx="323.1" cy="1863" r="10.1"/><circle cx="333.8" cy="1863" r="10.1"/><circle cx="344.4" cy="1863" r="10.1"/><circle cx="355.0" cy="1863" r="10.1"/><circle cx="264.0" cy="1872" r="10.1"/><circle cx="274.0" cy="1872" r="10.1"/><circle cx="284.0" cy="1872" r="10.1"/><circle cx="294.0" cy="1872" r="10.1"/><circle cx="304.0" cy="1872" r="10.1"/><circle cx="314.0" cy="1872" r="10.1"/><circle cx="324.0" cy="1872" r="10.1"/><circle cx="334.0" cy="1872" r="10.1"/><circle cx="344.0" cy="1872" r="10.1"/><circle cx="354.0" cy="1872" r="10.1"/><circle cx="364.0" cy="1872" r="10.1"/><circle cx="262.0" cy="1881" r="10.1"/><circle cx="272.5" cy="1881" r="10.1"/><circle cx="283.0" cy="1881" r="10.1"/><circle cx="293.5" cy="1881" r="10.1"/><circle cx="304.0" cy="1881" r="10.1"/><circle cx="314.5" cy="1881" r="10.1"/><circle cx="325.0" cy="1881" r="10.1"/><circle cx="335.5" cy="1881" r="10.1"/><circle cx="346.0" cy="1881" r="10.1"/><circle cx="356.5" cy="1881" r="10.1"/><circle cx="367.0" cy="1881" r="10.1"/><circle cx="262.0" cy="1890" r="10.1"/><circle cx="272.5" cy="1890" r="10.1"/><circle cx="283.0" cy="1890" r="10.1"/><circle cx="293.5" cy="1890" r="10.1"/><circle cx="304.0" cy="1890" r="10.1"/><circle cx="314.5" cy="1890" r="10.1"/><circle cx="325.0" cy="1890" r="10.1"/><circle cx="335.5" cy="1890" r="10.1"/><circle cx="346.0" cy="1890" r="10.1"/><circle cx="356.5" cy="1890" r="10.1"/><circle cx="367.0" cy="1890" r="10.1"/><circle cx="263.2" cy="1899" r="10.1"/><circle cx="273.3" cy="1899" r="10.1"/><circle cx="283.4" cy="1899" r="10.1"/><circle cx="293.4" cy="1899" r="10.1"/><circle cx="303.5" cy="1899" r="10.1"/><circle cx="313.6" cy="1899" r="10.1"/><circle cx="323.7" cy="1899" r="10.1"/><circle cx="333.8" cy="1899" r="10.1"/><circle cx="343.8" cy="1899" r="10.1"/><circle cx="353.9" cy="1899" r="10.1"/><circle cx="364.0" cy="1899" r="10.1"/><circle cx="267.2" cy="1908" r="10.1"/><circle cx="277.4" cy="1908" r="10.1"/><circle cx="287.6" cy="1908" r="10.1"/><circle cx="297.9" cy="1908" r="10.1"/><circle cx="308.1" cy="1908" r="10.1"/><circle cx="318.3" cy="1908" r="10.1"/><circle cx="328.5" cy="1908" r="10.1"/><circle cx="338.8" cy="1908" r="10.1"/><circle cx="349.0" cy="1908" r="10.1"/><circle cx="359.2" cy="1908" r="10.1"/><circle cx="276.8" cy="1917" r="10.1"/><circle cx="287.4" cy="1917" r="10.1"/><circle cx="297.9" cy="1917" r="10.1"/><circle cx="308.5" cy="1917" r="10.1"/><circle cx="319.1" cy="1917" r="10.1"/><circle cx="329.7" cy="1917" r="10.1"/><circle cx="340.2" cy="1917" r="10.1"/><circle cx="350.8" cy="1917" r="10.1"/><circle cx="284.8" cy="1926" r="10.1"/><circle cx="296.6" cy="1926" r="10.1"/><circle cx="308.5" cy="1926" r="10.1"/><circle cx="320.3" cy="1926" r="10.1"/><circle cx="332.2" cy="1926" r="10.1"/><circle cx="344.0" cy="1926" r="10.1"/><circle cx="292.0" cy="1935" r="10.1"/><circle cx="303.5" cy="1935" r="10.1"/><circle cx="315.0" cy="1935" r="10.1"/><circle cx="326.5" cy="1935" r="10.1"/><circle cx="338.0" cy="1935" r="10.1"/><circle cx="296.5" cy="1944" r="10.1"/><circle cx="309.3" cy="1944" r="10.1"/><circle cx="322.2" cy="1944" r="10.1"/><circle cx="335.0" cy="1944" r="10.1"/><circle cx="293.7" cy="1952.4" r="10.1"/><circle cx="336.6" cy="1946.8" r="10.1"/><circle cx="328.7" cy="1960" r="10.1"/><circle cx="314" cy="1960" r="10.1"/><circle cx="300" cy="1963" r="10.1"/><circle cx="314" cy="1973.9" r="10.1"/><circle cx="308.4" cy="1995.3" r="10.1"/><circle cx="320.8" cy="1995.3" r="10.1"/><circle cx="314.6" cy="2025.3" r="10.1"/></g>
<g fill="#ff0000"><circle cx="506.6" cy="1818.1" r="10.1"/><circle cx="501" cy="1839.5" r="10.1"/><circle cx="512.8" cy="1854.2" r="10.1"/><circle cx="494.8" cy="1864.4" r="10.1"/><circle cx="525.2" cy="1867.8" r="10.1"/><circle cx="488" cy="1872.3" r="10.1"/><circle cx="468.8" cy="1896" r="10.1"/><circle cx="480" cy="1892.6" r="10.1"/><circle cx="544.4" cy="1894.9" r="10.1"/><circle cx="519.6" cy="1888" r="10.1"/><circle cx="450.7" cy="1911.5" r="10.1"/><circle cx="562.5" cy="1922.7" r="10.1"/><circle cx="544.4" cy="1923.9" r="10.1"/><circle cx="467.7" cy="1923.9" r="10.1"/><circle cx="481.2" cy="1937.4" r="10.1"/><circle cx="534.3" cy="1944.2" r="10.1"/><circle cx="480.1" cy="1956.6" r="10.1"/><circle cx="506" cy="1969" r="10.1"/><circle cx="518.5" cy="1971.3" r="10.1"/><circle cx="503.8" cy="1983.7" r="10.1"/><circle cx="490.0" cy="1872" r="10.1"/><circle cx="501.0" cy="1872" r="10.1"/><circle cx="512.0" cy="1872" r="10.1"/><circle cx="523.0" cy="1872" r="10.1"/><circle cx="481.1" cy="1880" r="10.1"/><circle cx="491.4" cy="1880" r="10.1"/><circle cx="501.8" cy="1880" r="10.1"/><circle cx="512.1" cy="1880" r="10.1"/><circle cx="522.4" cy="1880" r="10.1"/><circle cx="532.8" cy="1880" r="10.1"/><circle cx="472.2" cy="1888" r="10.1"/><circle cx="482.3" cy="1888" r="10.1"/><circle cx="492.3" cy="1888" r="10.1"/><circle cx="502.4" cy="1888" r="10.1"/><circle cx="512.4" cy="1888" r="10.1"/><circle cx="522.5" cy="1888" r="10.1"/><circle cx="532.5" cy="1888" r="10.1"/><circle cx="542.6" cy="1888" r="10.1"/><circle cx="465.2" cy="1896" r="10.1"/><circle cx="474.2" cy="1896" r="10.1"/><circle cx="483.2" cy="1896" r="10.1"/><circle cx="492.2" cy="1896" r="10.1"/><circle cx="501.2" cy="1896" r="10.1"/><circle cx="510.2" cy="1896" r="10.1"/><circle cx="519.2" cy="1896" r="10.1"/><circle cx="528.2" cy="1896" r="10.1"/><circle cx="537.2" cy="1896" r="10.1"/><circle cx="546.2" cy="1896" r="10.1"/><circle cx="458.8" cy="1904" r="10.1"/><circle cx="468.7" cy="1904" r="10.1"/><circle cx="478.6" cy="1904" r="10.1"/><circle cx="488.5" cy="1904" r="10.1"/><circle cx="498.4" cy="1904" r="10.1"/><circle cx="508.2" cy="1904" r="10.1"/><circle cx="518.1" cy="1904" r="10.1"/><circle cx="528.0" cy="1904" r="10.1"/><circle cx="537.9" cy="1904" r="10.1"/><circle cx="547.8" cy="1904" r="10.1"/><circle cx="455.9" cy="1912" r="10.1"/><circle cx="465.5" cy="1912" r="10.1"/><circle cx="475.0" cy="1912" r="10.1"/><circle cx="484.6" cy="1912" r="10.1"/><circle cx="494.1" cy="1912" r="10.1"/><circle cx="503.7" cy="1912" r="10.1"/><circle cx="513.3" cy="1912" r="10.1"/><circle cx="522.8" cy="1912" r="10.1"/><circle cx="532.4" cy="1912" r="10.1"/><circle cx="541.9" cy="1912" r="10.1"/><circle cx="551.5" cy="1912" r="10.1"/><circle cx="461.5" cy="1920" r="10.1"/><circle cx="471.0" cy="1920" r="10.1"/><circle cx="480.5" cy="1920" r="10.1"/><circle cx="490.0" cy="1920" r="10.1"/><circle cx="499.5" cy="1920" r="10.1"/><circle cx="509.0" cy="1920" r="10.1"/><circle cx="518.5" cy="1920" r="10.1"/><circle cx="528.0" cy="1920" r="10.1"/><circle cx="537.5" cy="1920" r="10.1"/><circle cx="547.0" cy="1920" r="10.1"/><circle cx="556.5" cy="1920" r="10.1"/><circle cx="470.8" cy="1928" r="10.1"/><circle cx="480.2" cy="1928" r="10.1"/><circle cx="489.6" cy="1928" r="10.1"/><circle cx="499.1" cy="1928" r="10.1"/><circle cx="508.5" cy="1928" r="10.1"/><circle cx="517.9" cy="1928" r="10.1"/><circle cx="527.3" cy="1928" r="10.1"/><circle cx="536.8" cy="1928" r="10.1"/><circle cx="546.2" cy="1928" r="10.1"/><circle cx="555.6" cy="1928" r="10.1"/><circle cx="478.3" cy="1936" r="10.1"/><circle cx="487.6" cy="1936" r="10.1"/><circle cx="497.0" cy="1936" r="10.1"/><circle cx="506.4" cy="1936" r="10.1"/><circle cx="515.8" cy="1936" r="10.1"/><circle cx="525.1" cy="1936" r="10.1"/><circle cx="534.5" cy="1936" r="10.1"/><circle cx="543.9" cy="1936" r="10.1"/><circle cx="483.0" cy="1944" r="10.1"/><circle cx="493.7" cy="1944" r="10.1"/><circle cx="504.4" cy="1944" r="10.1"/><circle cx="515.1" cy="1944" r="10.1"/><circle cx="525.8" cy="1944" r="10.1"/><circle cx="536.5" cy="1944" r="10.1"/><circle cx="485.0" cy="1952" r="10.1"/><circle cx="494.7" cy="1952" r="10.1"/><circle cx="504.4" cy="1952" r="10.1"/><circle cx="514.1" cy="1952" r="10.1"/><circle cx="523.8" cy="1952" r="10.1"/><circle cx="533.5" cy="1952" r="10.1"/><circle cx="490.7" cy="1960" r="10.1"/><circle cx="499.8" cy="1960" r="10.1"/><circle cx="509.0" cy="1960" r="10.1"/><circle cx="518.2" cy="1960" r="10.1"/><circle cx="527.3" cy="1960" r="10.1"/><circle cx="500.0" cy="1968" r="10.1"/><circle cx="509.0" cy="1968" r="10.1"/><circle cx="518.0" cy="1968" r="10.1"/><circle cx="506.4" cy="1995.7" r="10.1"/><circle cx="501.3" cy="2003.4" r="10.1"/><circle cx="502.6" cy="2031.3" r="10.1"/><circle cx="511.5" cy="2023.7" r="10.1"/></g>
<line x1="315" y1="1845" x2="315" y2="1936.2" stroke="#000" stroke-width="8" stroke-linecap="butt"/>
<line x1="283" y1="1845" x2="347" y2="1845" stroke="#000" stroke-width="8" stroke-linecap="butt"/>
<line x1="283" y1="1936.2" x2="347" y2="1936.2" stroke="#000" stroke-width="8" stroke-linecap="butt"/>
<line x1="506.8" y1="1879" x2="506.8" y2="1958" stroke="#000" stroke-width="8" stroke-linecap="butt"/>
<line x1="474.8" y1="1879" x2="538.8" y2="1879" stroke="#000" stroke-width="8" stroke-linecap="butt"/>
<line x1="474.8" y1="1958" x2="538.8" y2="1958" stroke="#000" stroke-width="8" stroke-linecap="butt"/>
<path d="M318.4,1739.8 V1711.5 H507 V1739.8" fill="none" stroke="#000" stroke-width="6.5" stroke-linejoin="miter"/>
<path d="M1024,2199.1 V1772.7 H1146 V2199.1" fill="#fff" stroke="#000" stroke-width="8" stroke-linejoin="miter"/>
<path d="M1216.2,2199.1 V1781 H1338.2 V2199.1" fill="#fff" stroke="#000" stroke-width="8" stroke-linejoin="miter"/>
<line x1="957" y1="1652.8999999999999" x2="957" y2="2200.7999999999997" stroke="#000" stroke-width="3.6" stroke-linecap="butt"/>
<line x1="955.2" y1="2199.1" x2="1404.8999999999999" y2="2199.1" stroke="#000" stroke-width="3.8" stroke-linecap="round"/>
<line x1="938" y1="2199" x2="957" y2="2199" stroke="#000" stroke-width="3.6" stroke-linecap="butt"/>
<line x1="938" y1="2017.5" x2="957" y2="2017.5" stroke="#000" stroke-width="3.6" stroke-linecap="butt"/>
<line x1="938" y1="1836" x2="957" y2="1836" stroke="#000" stroke-width="3.6" stroke-linecap="butt"/>
<line x1="938" y1="1654.6" x2="957" y2="1654.6" stroke="#000" stroke-width="3.6" stroke-linecap="butt"/>
<g fill="#0000ff"><circle cx="1031" cy="1755" r="10.1"/><circle cx="1045" cy="1757" r="10.1"/><circle cx="1058" cy="1757" r="10.1"/><circle cx="1072" cy="1753" r="10.1"/><circle cx="1085" cy="1753" r="10.1"/><circle cx="1098" cy="1755" r="10.1"/><circle cx="1112" cy="1753" r="10.1"/><circle cx="1125" cy="1752" r="10.1"/><circle cx="1139" cy="1757" r="10.1"/><circle cx="1128" cy="1762" r="10.1"/><circle cx="1040" cy="1762" r="10.1"/><circle cx="1057" cy="1777" r="10.1"/><circle cx="1068" cy="1771" r="10.1"/><circle cx="1080" cy="1778" r="10.1"/><circle cx="1099" cy="1773" r="10.1"/><circle cx="1111" cy="1773" r="10.1"/><circle cx="1125" cy="1763" r="10.1"/><circle cx="1090" cy="1765" r="10.1"/><circle cx="1050" cy="1765" r="10.1"/><circle cx="1118" cy="1749" r="10.1"/><circle cx="1062" cy="1767" r="10.1"/><circle cx="1075" cy="1765" r="10.1"/><circle cx="1105" cy="1765" r="10.1"/><circle cx="1085.2" cy="1803.6" r="10.1"/><circle cx="1084" cy="1813.7" r="10.1"/><circle cx="1085" cy="1790" r="10.1"/><circle cx="1085.1" cy="1838.5" r="10.1"/><circle cx="1085.4" cy="2021.9" r="10.1"/></g>
<g fill="#ff0000"><circle cx="1224" cy="1764" r="10.1"/><circle cx="1238" cy="1760" r="10.1"/><circle cx="1253" cy="1763" r="10.1"/><circle cx="1269" cy="1757" r="10.1"/><circle cx="1284" cy="1759" r="10.1"/><circle cx="1298" cy="1764" r="10.1"/><circle cx="1312" cy="1762" r="10.1"/><circle cx="1328" cy="1762" r="10.1"/><circle cx="1331" cy="1772" r="10.1"/><circle cx="1234" cy="1773" r="10.1"/><circle cx="1254" cy="1771" r="10.1"/><circle cx="1269" cy="1777" r="10.1"/><circle cx="1287" cy="1777" r="10.1"/><circle cx="1304" cy="1772" r="10.1"/><circle cx="1321" cy="1773" r="10.1"/><circle cx="1245" cy="1768" r="10.1"/><circle cx="1262" cy="1768" r="10.1"/><circle cx="1295" cy="1770" r="10.1"/><circle cx="1315" cy="1768" r="10.1"/><circle cx="1276" cy="1790" r="10.1"/><circle cx="1276" cy="1803.6" r="10.1"/><circle cx="1276" cy="1812" r="10.1"/><circle cx="1276.4" cy="1837.8" r="10.1"/><circle cx="1276.1" cy="2005.1" r="10.1"/><circle cx="1276.1" cy="2035.1" r="10.1"/></g>
<line x1="1085" y1="1738.6" x2="1085" y2="1796.5" stroke="#000" stroke-width="8" stroke-linecap="butt"/>
<line x1="1053" y1="1738.6" x2="1117" y2="1738.6" stroke="#000" stroke-width="8" stroke-linecap="butt"/>
<line x1="1053" y1="1796.5" x2="1117" y2="1796.5" stroke="#000" stroke-width="8" stroke-linecap="butt"/>
<line x1="1277.2" y1="1734.3" x2="1277.2" y2="1818.1" stroke="#000" stroke-width="8" stroke-linecap="butt"/>
<line x1="1245.2" y1="1734.3" x2="1309.2" y2="1734.3" stroke="#000" stroke-width="8" stroke-linecap="butt"/>
<line x1="1245.2" y1="1818.1" x2="1309.2" y2="1818.1" stroke="#000" stroke-width="8" stroke-linecap="butt"/>
<path d="M1088.4,1705.2 V1677.7 H1275.7 V1705.2" fill="none" stroke="#000" stroke-width="6.5" stroke-linejoin="miter"/>
<text transform="translate(8.04,36.00) scale(0.9340,1.0032)" font-size="36" font-weight="bold" fill="#000">A</text>
<text transform="translate(786.69,36.00) scale(0.9102,1.0032)" font-size="36" font-weight="bold" fill="#000">B</text>
<text transform="translate(8.59,792.00) scale(0.9088,1.0032)" font-size="36" font-weight="bold" fill="#000">C</text>
<text transform="translate(787.12,792.00) scale(0.9406,1.0032)" font-size="36" font-weight="bold" fill="#000">D</text>
<text transform="translate(7.76,1605.00) scale(0.8763,0.9559)" font-size="36" font-weight="bold" fill="#000">E</text>
<text transform="translate(787.53,1605.00) scale(0.9317,0.9715)" font-size="36" font-weight="bold" fill="#000">F</text>
<text transform="translate(89.16,68.49) scale(0.9216,1.0311)" font-size="37" font-weight="bold" fill="#000">1500</text>
<text transform="translate(88.73,252.50) scale(0.9129,0.9867)" font-size="37" font-weight="bold" fill="#000">1000</text>
<text transform="translate(852.75,69.01) scale(0.9078,0.9929)" font-size="37" font-weight="bold" fill="#000">1500</text>
<text transform="translate(871.60,438.00) scale(0.9187,0.9847)" font-size="37" font-weight="bold" fill="#000">500</text>
<text transform="translate(909.06,621.49) scale(0.9444,0.9867)" font-size="37" font-weight="bold" fill="#000">0</text>
<text transform="translate(90.72,888.51) scale(0.9039,0.9713)" font-size="37" font-weight="bold" fill="#000">1500</text>
<text transform="translate(852.71,891.52) scale(0.9206,1.0342)" font-size="37" font-weight="bold" fill="#000">1000</text>
<text transform="translate(108.29,1663.00) scale(0.8728,0.9542)" font-size="37" font-weight="bold" fill="#000">150</text>
<text transform="translate(108.32,1844.54) scale(0.8729,0.9158)" font-size="37" font-weight="bold" fill="#000">100</text>
<text transform="translate(145.15,2207.54) scale(0.8457,0.9159)" font-size="37" font-weight="bold" fill="#000">0</text>
<text transform="translate(880.26,1664.00) scale(0.8724,0.9159)" font-size="37" font-weight="bold" fill="#000">120</text>
<text transform="translate(915.03,2207.55) scale(0.9575,0.9317)" font-size="37" font-weight="bold" fill="#000">0</text>
<text transform="translate(108.00,437.75) scale(0.9129,0.9867)" font-size="37" font-weight="bold" fill="#000">500</text>
<text transform="translate(146.00,622.75) scale(0.9129,0.9867)" font-size="37" font-weight="bold" fill="#000">0</text>
<text transform="translate(854.00,253.25) scale(0.9078,0.9929)" font-size="37" font-weight="bold" fill="#000">1000</text>
<text transform="translate(91.50,1074.25) scale(0.9039,0.9713)" font-size="37" font-weight="bold" fill="#000">1000</text>
<text transform="translate(109.50,1259.25) scale(0.9039,0.9713)" font-size="37" font-weight="bold" fill="#000">500</text>
<text transform="translate(146.50,1444.25) scale(0.9039,0.9713)" font-size="37" font-weight="bold" fill="#000">0</text>
<text transform="translate(872.00,1000.75) scale(0.9206,1.0342)" font-size="37" font-weight="bold" fill="#000">800</text>
<text transform="translate(872.00,1111.75) scale(0.9206,1.0342)" font-size="37" font-weight="bold" fill="#000">600</text>
<text transform="translate(872.00,1221.75) scale(0.9206,1.0342)" font-size="37" font-weight="bold" fill="#000">400</text>
<text transform="translate(872.00,1333.25) scale(0.9206,1.0342)" font-size="37" font-weight="bold" fill="#000">200</text>
<text transform="translate(909.00,1443.75) scale(0.9206,1.0342)" font-size="37" font-weight="bold" fill="#000">0</text>
<text transform="translate(127.00,2025.75) scale(0.8729,0.9158)" font-size="37" font-weight="bold" fill="#000">50</text>
<text transform="translate(898.00,1845.25) scale(0.8724,0.9159)" font-size="37" font-weight="bold" fill="#000">80</text>
<text transform="translate(898.00,2026.75) scale(0.8724,0.9159)" font-size="37" font-weight="bold" fill="#000">40</text>
<text transform="translate(286.47,669.97) scale(1.0073,0.9867)" font-size="37" font-weight="bold" fill="#000">PA-</text>
<text transform="translate(479.69,669.97) scale(0.9211,0.9867)" font-size="37" font-weight="bold" fill="#000">P<tspan dx="-3.4">A</tspan><tspan dx="-6.5">+</tspan></text>
<text transform="translate(1050.50,670.00) scale(0.9966,0.9696)" font-size="37" font-weight="bold" fill="#000">PA-</text>
<text transform="translate(1242.63,670.00) scale(0.9387,0.9696)" font-size="37" font-weight="bold" fill="#000">P<tspan dx="-3.4">A</tspan><tspan dx="-6.5">+</tspan></text>
<text transform="translate(289.05,1488.97) scale(0.9791,0.9867)" font-size="37" font-weight="bold" fill="#000">PA-</text>
<text transform="translate(478.65,1488.97) scale(0.9386,0.9867)" font-size="37" font-weight="bold" fill="#000">P<tspan dx="-3.4">A</tspan><tspan dx="-6.5">+</tspan></text>
<text transform="translate(1051.53,1492.48) scale(0.9860,0.9701)" font-size="37" font-weight="bold" fill="#000">PA-</text>
<text transform="translate(1241.14,1492.48) scale(0.9387,0.9701)" font-size="37" font-weight="bold" fill="#000">P<tspan dx="-3.4">A</tspan><tspan dx="-6.5">+</tspan></text>
<text transform="translate(286.06,2252.00) scale(0.9724,1.0024)" font-size="37" font-weight="bold" fill="#000">PA-</text>
<text transform="translate(471.64,2252.00) scale(0.9384,1.0024)" font-size="37" font-weight="bold" fill="#000">P<tspan dx="-3.4">A</tspan><tspan dx="-6.5">+</tspan></text>
<text transform="translate(1056.02,2252.00) scale(0.9898,1.0024)" font-size="37" font-weight="bold" fill="#000">PA-</text>
<text transform="translate(1241.61,2252.00) scale(0.9423,1.0024)" font-size="37" font-weight="bold" fill="#000">P<tspan dx="-3.4">A</tspan><tspan dx="-6.5">+</tspan></text>
<text transform="translate(348.28,151.49) scale(0.9156,1.0392)" font-size="37" font-weight="normal" fill="#1a1a1a">P=0.504</text>
<text transform="translate(1113.75,150.51) scale(0.9240,1.0024)" font-size="37" font-weight="normal" fill="#1a1a1a">P=0.090</text>
<text transform="translate(352.26,813.02) scale(0.9120,1.0082)" font-size="37" font-weight="normal" fill="#1a1a1a">P=0.078</text>
<text transform="translate(1113.75,897.01) scale(0.9239,0.9929)" font-size="37" font-weight="normal" fill="#1a1a1a">P=0.237</text>
<text transform="translate(347.87,1691.51) scale(0.8717,1.0082)" font-size="37" font-weight="normal" fill="#1a1a1a">P&lt;0.001</text>
<text transform="translate(1105.62,1656.51) scale(0.9536,0.9867)" font-size="37" font-weight="normal" fill="#1a1a1a">P=0.1015</text>
<text transform="translate(81.30,491.61) rotate(-90) scale(0.8713,0.9663)" font-size="45" font-weight="bold" fill="#000" letter-spacing="7.2">IL-1β (pg/ml)</text>
<text transform="translate(845.82,469.14) rotate(-90) scale(0.8685,0.9663)" font-size="45" font-weight="bold" fill="#000" letter-spacing="5.8">IL-6 (pg/ml)</text>
<text transform="translate(80.89,1302.83) rotate(-90) scale(0.8710,0.9568)" font-size="45" font-weight="bold" fill="#000" letter-spacing="4.6">sIL-2R (U/ml)</text>
<text transform="translate(844.59,1300.93) rotate(-90) scale(0.8696,0.9903)" font-size="45" font-weight="bold" fill="#000" letter-spacing="3.2">TNF-a (pg/ml)</text>
<text transform="translate(90.76,2057.62) rotate(-90) scale(0.8672,0.9711)" font-size="45" font-weight="bold" fill="#000" letter-spacing="1.1">PaO<tspan dy="8" font-size="32">2</tspan><tspan dy="-8"> (mmHg)</tspan></text>
<text transform="translate(863.28,2014.31) rotate(-90) scale(0.8715,0.9182)" font-size="45" font-weight="bold" fill="#000" letter-spacing="0.4">SPO<tspan dy="8" font-size="32">2</tspan><tspan dy="-8"> (%)</tspan></text>
</svg></body></html>
